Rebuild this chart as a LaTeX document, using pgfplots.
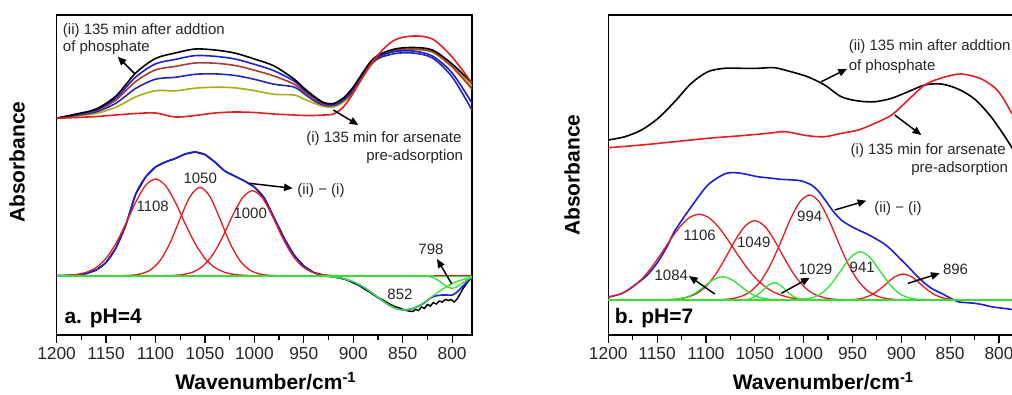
\documentclass[border=0pt]{standalone}
\usepackage{fontspec}
\setmainfont{Liberation Sans}
\usepackage{pgfplots}
\usepackage{pgfplotstable}
\pgfplotsset{compat=1.18}
\usetikzlibrary{arrows.meta}
\definecolor{cred}{RGB}{228,30,35}
\definecolor{cblue}{RGB}{30,30,215}
\definecolor{cdblue}{RGB}{40,40,170}
\definecolor{cgreen}{RGB}{50,225,50}
\definecolor{cbrown}{RGB}{170,60,40}
\definecolor{colive}{RGB}{170,170,20}
\newcommand\af{\fontsize{11.25}{13}\selectfont}
\newcommand\lf{\fontsize{15.75}{18}\selectfont\bfseries}
\newcommand\tf{\fontsize{13}{15}\selectfont}

\pgfplotstableread{
w B b2 br b4 ol R
1200 216.7 216.7 216.7 216.7 216.7 216.7
1180 221 220.7 220.3 219.7 218.9 217.5
1160 226 225.3 224.4 223.2 221.6 218.5
1140 239 237.1 235.0 231.8 227.8 220
1120 262 258.0 253.5 246.6 238.1 221.5
1100 276.5 271.1 265.1 255.8 244.3 222
1080 282 275.6 268.6 257.7 244.2 218
1060 286 279.4 272.0 260.7 246.8 219.5
1040 285 278.7 271.8 261.1 247.8 222
1020 282 276.1 269.6 259.6 247.2 223
1000 276 270.7 264.8 255.7 244.4 222.5
980 269 264.2 258.9 250.8 240.7 221
960 256 254 251 248 240 220
950 247 245.5 243.5 241.5 236 219.5
940 239 238 236.5 234.5 232 219.5
930 232.5 232 231 230 228.5 220
920 231.5 231 230.5 229.5 228 221
910 237 236 235.5 234.5 233 228
900 248 246.5 245.5 244.5 243 242
880 276 275 274 273 272 274
860 285.5 283 284 281 284 294
840 287.5 284 285.5 282 286 299
820 285 279 283 277 284 296
800 271 262 268 258 269 278
780 252 232 246 225 249 252
}\topA

\pgfplotsset{
  panel/.style={
    scale only axis, height=240pt,
    xmin=780, xmax=1200, x dir=reverse,
    ymin=0, ymax=320,
    xtick={800,850,...,1200}, minor x tick num=1,
    ytick=\empty, xtick pos=left,
    tick align=outside,
    major tick length=6pt, minor tick length=3.75pt,
    axis line style={line width=1.1pt},
    every tick/.style={black, line width=0.9pt},
    xticklabel style={font=\tf, black!85},
    /pgf/number format/assume math mode=true,
    /pgf/number format/1000 sep={},
    clip=false,
  },
  dl/.style={line width=1.2pt, smooth},
  gl/.style={line width=1.0pt, smooth},
}

\begin{document}
\begin{tikzpicture}
\useasboundingbox (0,0) rectangle (759pt,295.5pt);
\clip (0,0) rectangle (759pt,295.5pt);

% ---------------- panel a ----------------
\begin{axis}[panel, at={(42.45pt,44.25pt)}, anchor=south west, width=311.5pt]
\addplot[dl, colive] table[x=w,y=ol]{\topA};
\addplot[dl, cdblue] table[x=w,y=b4]{\topA};
\addplot[dl, cbrown] table[x=w,y=br]{\topA};
\addplot[dl, cblue] table[x=w,y=b2]{\topA};
\addplot[dl, black] table[x=w,y=B]{\topA};
\addplot[dl, cred] table[x=w,y=R]{\topA};
% data (ii)-(i)
\addplot[line width=1.1pt, black] coordinates {
(1200,59.3)(1190,59.5)(1180,60)(1170,61.5)(1160,65)(1150,72.5)(1140,87)(1130,110)(1120,141)(1110,158)(1100,168)(1090,173)(1080,176.5)(1070,181)(1060,183)(1050,180.5)(1040,173)(1030,164)(1020,159)(1010,154)(1000,148)(990,137)(980,117)(970,97)(960,80)(950,69)(940,62.5)(932,60.5)(925,59)(918,58)(912,56.5)(906,55)(900,52)(894,49.5)(888,45.5)(882,42)(876,38)(870,35)(864,31.5)(858,28.5)(852,26.5)(848,25)(844,24)(840,23.5)(837,25.5)(834,24.5)(831,28)(828,26.5)(825,30.5)(822,29)(819,32.5)(816,31)(813,34)(810,33)(807,35.5)(804,34.5)(801,35.5)(798,33)(795,36)(792,41)(789,46.5)(785,52)(780,58.5)};
% fit
\addplot[dl, cblue] coordinates {
(1200,59.3)(1190,59.5)(1180,60)(1170,61.5)(1160,65)(1150,72.5)(1140,87)(1130,110)(1120,141)(1110,158)(1100,168)(1090,173)(1080,176.5)(1070,181)(1060,183)(1050,180.5)(1040,173)(1030,164)(1020,159)(1010,154)(1000,148)(990,137)(980,117)(970,97)(960,80)(950,69)(940,62.5)(930,59.5)(920,58)(910,56.3)(900,53)(890,48)(880,41.2)(870,34)(860,28)(850,25.1)(840,26.4)(830,31)(820,38)(810,40)(800,40)(795,43)(790,48)(785,53)(780,57)};
% red components
\addplot[gl, cred] coordinates {
(1200,59.4)(1190,59.7)(1180,60.5)(1170,62.7)(1160,67.5)(1150,76.7)(1140,91.6)(1130,111.4)(1120,132.8)(1110,149.6)(1100,156.0)(1090,149.6)(1080,132.8)(1070,111.4)(1060,91.6)(1050,76.7)(1040,67.5)(1030,62.7)(1020,60.5)(1010,59.7)(1000,59.4)};
\addplot[gl, cred] coordinates {
(1135,59.3)(1125,59.7)(1115,61.1)(1105,65.2)(1095,74.9)(1085,92.7)(1075,116.6)(1065,138.5)(1055,147.6)(1045,138.5)(1035,116.6)(1025,92.7)(1015,74.9)(1005,65.2)(995,61.1)(985,59.7)(975,59.3)};
\addplot[gl, cred] coordinates {
(1092,59.3)(1082,59.6)(1072,60.5)(1062,63.0)(1052,69.0)(1042,80.5)(1032,98.2)(1022,119.4)(1012,137.2)(1002,144.3)(992,137.2)(982,119.4)(972,98.2)(962,80.5)(952,69.0)(942,63.0)(932,60.5)(922,59.6)(912,59.3)};
% green components and baseline
\addplot[line width=1.2pt, cgreen] coordinates {(1200,59.3)(780,59.3)};
\addplot[gl, cgreen] coordinates {
(968,59.3)(958,59.28)(948,59.2)(938,59.1)(928,58.7)(918,57.8)(908,55.8)(898,52.3)(888,46.9)(878,40.0)(868,32.7)(858,27.1)(848,25.0)(838,27.1)(828,32.7)(818,40.0)(808,46.9)(798,52.3)(788,55.8)(780,57.5)};
\addplot[gl, cgreen] coordinates {
(840,59.3)(835,59.28)(830,59.2)(825,58.75)(820,57.6)(815,55.2)(810,51.7)(805,48.2)(800,46.7)(795,48.2)(790,51.7)(785,55.2)(780,57.6)};
\addplot[line width=1.0pt, cred] coordinates {(818,59.3)(780,59.3)};
\end{axis}

% ---------------- panel b ----------------
\begin{axis}[panel, at={(456.2pt,44.25pt)}, anchor=south west, width=307.7pt]
\addplot[dl, black] coordinates {
(1200,195)(1183,198.3)(1166,205)(1149,216.7)(1132,233.3)(1115,251.7)(1098,263.3)(1081,266.7)(1064,266.7)(1047,266.7)(1030,267.3)(1013,263.3)(996,258.3)(978.5,250)(961.5,238.3)(944,234)(927,233.3)(910,236.7)(893,243.3)(876,250)(859,251)(842,246)(825,236)(808,218)(791,194)(780,176)};
\addplot[dl, cred] coordinates {
(1200,187.3)(1166,190)(1132,193.3)(1098,196.7)(1064,199.3)(1036.5,201.7)(1019,203.3)(996,199.3)(978.5,198.3)(961.5,201.7)(944,205)(927,211.7)(910,220)(893,235)(876,250)(859,257)(839,261)(818,256)(801,244)(787,222)(780,210)};
\addplot[dl, cblue] coordinates {
(1200,38)(1185,42)(1170,52)(1160,60)(1150,72)(1140,88)(1132,104)(1115,128.3)(1098,150)(1081,161)(1070,162.3)(1060,161)(1047,158.3)(1035,157)(1023,155.7)(1010,155)(1002,154)(992,150)(985,144)(978,135)(970,124)(961.5,115)(952,109)(944,105)(935,101)(927,96.7)(918,91.5)(910,85)(902,77)(893,68.3)(885,60)(876,51.7)(868,46)(859,41.7)(850,37)(842,33.3)(835,32.5)(825,31.7)(815,30)(808,28.3)(798,27)(788,25.7)(780,24.5)};
\addplot[gl, cred] coordinates {
(1200,37.5)(1187,41.3)(1177,46.6)(1167,54.7)(1157,65.9)(1147,79.6)(1137,94.4)(1127,107.8)(1117,117.3)(1107,120.7)(1097,117.3)(1087,107.8)(1077,94.4)(1067,79.6)(1057,65.9)(1047,54.7)(1037,46.6)(1027,41.3)(1017,38.1)(1007,36.4)(997,35.6)(987,35.2)};
\addplot[gl, cred] coordinates {
(1140,35.3)(1130,35.9)(1120,37.6)(1110,41.3)(1100,48.7)(1090,60.8)(1080,77.2)(1070,94.9)(1060,108.9)(1050,114.3)(1040,108.9)(1030,94.9)(1020,77.2)(1010,60.8)(1000,48.7)(990,41.3)(980,37.6)(970,35.9)(960,35.3)};
\addplot[gl, cred] coordinates {
(1084,35.4)(1074,36.3)(1064,38.6)(1054,43.9)(1044,53.9)(1034,70.1)(1024,91.6)(1014,114.8)(1004,133.0)(994,140.0)(984,133.0)(974,114.8)(964,91.6)(954,70.1)(944,53.9)(934,43.9)(924,38.6)(914,36.3)(904,35.4)};
\addplot[gl, cred] coordinates {
(958,35.1)(948,35.55)(938,37.2)(928,41.5)(918,49.0)(908,57.3)(898,61.0)(888,57.3)(878,49.0)(868,41.5)(858,37.2)(848,35.55)(838,35.1)};
\addplot[line width=1.2pt, cgreen] coordinates {(1200,35)(780,35)};
\addplot[gl, cgreen] coordinates {
(1133,35.5)(1123,37.0)(1113,40.8)(1103,47.6)(1093,55.0)(1083,58.3)(1073,55.0)(1063,47.6)(1053,40.8)(1043,37.0)(1033,35.5)};
\addplot[gl, cgreen] coordinates {
(1060,35.4)(1055,36.3)(1050,38.3)(1045,41.8)(1040,46.4)(1035,50.6)(1030,52.3)(1025,50.6)(1020,46.4)(1015,41.8)(1010,38.3)(1005,36.3)(1000,35.4)};
\addplot[gl, cgreen] coordinates {
(1002,35.5)(992,37.1)(982,41.5)(972,50.7)(962,64.3)(952,77.6)(942,83.3)(932,77.6)(922,64.3)(912,50.7)(902,41.5)(892,37.1)(882,35.5)};
\end{axis}

% ---------------- annotations (pixel frame) ----------------
\begin{scope}[x=0.75pt, y=-0.75pt, yshift=295.5pt]
\tikzset{ar/.style={line width=1.1pt, -{Triangle[length=6.5pt,width=5.5pt]}},
         t/.style={inner sep=0, font=\af, text=black!85}}
% panel a
\node[t, anchor=base west] at (62.7,34) {(ii) 135 min after addtion};
\node[t, anchor=base west] at (62.7,51) {of phosphate};
\node[t, anchor=base east] at (461.7,142.5) {(i) 135 min for arsenate};
\node[t, anchor=base east] at (463.3,160) {pre-adsorption};
\node[t] at (152.7,206.3) {1108};
\node[t] at (200.2,178.3) {1050};
\node[t] at (250.2,213.3) {1000};
\node[t] at (321,190.8) {(ii) − (i)};
\node[t] at (400,294) {852};
\node[t] at (431,249) {798};
\draw[ar] (134.3,73.3) -- (117.7,56.7);
\draw[ar] (333.3,110) -- (358.3,125);
\draw[ar] (249.3,183.3) -- (292.7,188.3);
\draw[ar] (451.5,283.5) -- (437,259);
\node[anchor=base west, inner sep=0, font=\lf] at (64.3,323.5) {a. pH=4};
\node[rotate=90, inner sep=0, font=\lf] at (17,162) {Absorbance};
\node[anchor=base, inner sep=0, font=\lf] at (265.8,389.5) {Wavenumber/cm\textsuperscript{-1}};
% panel b
\node[t, anchor=base west] at (848.5,50.5) {(ii) 135 min after addtion};
\node[t, anchor=base west] at (848.5,70) {of phosphate};
\node[t, anchor=base east] at (1006,154.5) {(i) 135 min for arsenate};
\node[t, anchor=base east] at (1008.3,172) {pre-adsorption};
\node[t] at (898,208.3) {(ii) − (i)};
\node[t] at (699.7,235.8) {1106};
\node[t] at (753.8,242.5) {1049};
\node[t] at (809.7,216.7) {994};
\node[t] at (671.3,275.8) {1084};
\node[t] at (815.5,269.2) {1029};
\node[t] at (862.2,267.5) {941};
\node[t] at (955.5,269.2) {896};
\draw[ar] (821.3,81.7) -- (847,68.8);
\draw[ar] (894.7,115) -- (921.3,135);
\draw[ar] (834.7,210) -- (866.3,200.7);
\draw[ar] (714.7,294) -- (689,276);
\draw[ar] (781.3,293.3) -- (809.7,277.7);
\draw[ar] (908,283.3) -- (939.7,273.3);
\node[anchor=base west, inner sep=0, font=\lf] at (614.7,323) {b. pH=7};
\node[rotate=90, inner sep=0, font=\lf] at (572,175) {Absorbance};
\node[anchor=base, inner sep=0, font=\lf] at (823.3,389.5) {Wavenumber/cm\textsuperscript{-1}};
\end{scope}
\end{tikzpicture}
\end{document}
